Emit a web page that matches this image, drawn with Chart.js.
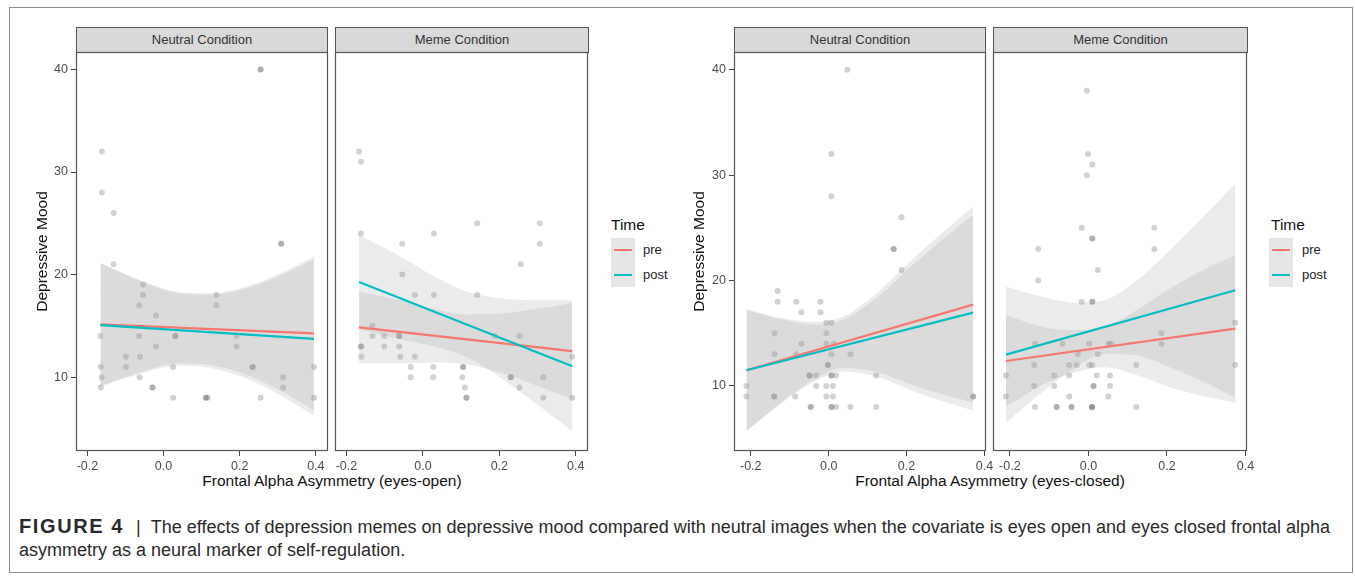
<!DOCTYPE html>
<html><head><meta charset="utf-8">
<script src="https://cdn.jsdelivr.net/npm/chart.js@4/dist/chart.umd.min.js"></script>
<style>
html,body{margin:0;padding:0;background:#fff;}
body{width:1355px;height:581px;position:relative;overflow:hidden;font-family:"Liberation Sans",Arial,sans-serif;}
canvas{position:absolute;}
.frame{position:absolute;left:9px;top:7px;width:1344px;height:566px;border:1px solid #8a8a8a;box-sizing:border-box;}
.strip{position:absolute;top:27px;height:26px;box-sizing:border-box;border:1px solid #555;background:#d9d9d9;color:#333;font-size:13px;text-align:center;line-height:24px;white-space:nowrap;}
.xt{position:absolute;top:472px;font-size:15.5px;line-height:18px;color:#111;transform:translateX(-50%);white-space:nowrap;}
.lgt{position:absolute;top:216px;font-size:15.5px;line-height:18px;color:#111;}
.lgk{position:absolute;top:238px;width:24px;height:49px;background:#e6e6e6;}
.lgl{position:absolute;width:18px;height:2px;}
.lgx{position:absolute;font-size:13px;line-height:16px;color:#222;}
.cap{position:absolute;left:19px;top:515px;font-size:18px;line-height:23px;color:#2a2a2a;white-space:nowrap;}
</style>
</head>
<body>
<div class="frame"></div>

<div class="strip" style="left:76px;width:252px">Neutral Condition</div>
<div class="strip" style="left:335px;width:254px">Meme Condition</div>
<div class="strip" style="left:734px;width:252px">Neutral Condition</div>
<div class="strip" style="left:993px;width:255px">Meme Condition</div>

<div class="xt" style="left:332px">Frontal Alpha Asymmetry (eyes-open)</div>
<div class="xt" style="left:990px">Frontal Alpha Asymmetry (eyes-closed)</div>

<div class="lgt" style="left:611px">Time</div>
<div class="lgk" style="left:611px"></div>
<div class="lgl" style="left:614px;top:249px;background:#F8766D"></div>
<div class="lgl" style="left:614px;top:274px;background:#00BFC4"></div>
<div class="lgx" style="left:643px;top:242px">pre</div>
<div class="lgx" style="left:643px;top:267px">post</div>

<div class="lgt" style="left:1271px">Time</div>
<div class="lgk" style="left:1269px"></div>
<div class="lgl" style="left:1272px;top:249px;background:#F8766D"></div>
<div class="lgl" style="left:1272px;top:274px;background:#00BFC4"></div>
<div class="lgx" style="left:1302px;top:242px">pre</div>
<div class="lgx" style="left:1302px;top:267px">post</div>

<div class="cap"><span style="font-weight:bold;font-size:20px;letter-spacing:1.6px">FIGURE 4</span><span style="margin:0 10px 0 12px">|</span>The effects of depression memes on depressive mood compared with neutral images when the covariate is eyes open and eyes closed frontal alpha<br>asymmetry as a neural marker of self-regulation.</div>

<script>
// ---------- data ----------
const xTicks = [-0.2, 0, 0.2, 0.4];
const yTicks = [10, 20, 30, 40];
const openXRange = [-0.23, 0.432];
const closedXRange = [-0.243, 0.404];
const openYRange = [2.8, 41.7];
const closedYRange = [3.83, 41.68];

// Panel 1: Neutral, eyes-open
const p1x = [0.255,0.255,-0.162,-0.162,-0.131,-0.131,0.309,0.309,-0.054,-0.054,-0.064,-0.020,0.139,0.139,-0.166,-0.064,0.031,0.031,0.192,-0.020,0.192,-0.099,-0.062,-0.165,-0.099,0.025,0.234,0.234,0.395,-0.163,-0.063,0.314,-0.165,-0.029,-0.029,0.314,0.025,0.111,0.111,0.116,0.255,0.395];
const p1y = [40,40,32,28,26,21,23,23,19,18,17,16,18,17,14,14,14,14,14,13,13,12,12,11,11,11,11,11,11,10,10,10,9,9,9,9,8,8,8,8,8,8];
const p1LineX = [-0.166, 0.395];
const p1Pre = [15.14, 14.26];
const p1Post = [15.08, 13.74];
const p1BandX = [-0.166, -0.054, 0.034, 0.121, 0.209, 0.297, 0.395];
const p1PreUpper = [21.14, 19.36, 18.33, 18.19, 18.75, 19.96, 21.76];
const p1PreLower = [9.14, 10.56, 11.33, 11.19, 10.35, 8.86, 6.76];
const p1PostUpper = [21.10, 19.28, 18.22, 18.05, 18.58, 19.75, 21.50];
const p1PostLower = [9.08, 10.41, 11.10, 10.89, 9.98, 8.42, 6.24];

// Panel 2: Meme, eyes-open
const p2x = [-0.167,-0.162,-0.162,0.142,0.306,0.029,-0.054,0.306,0.256,-0.054,-0.021,0.029,0.142,-0.132,-0.132,-0.101,-0.062,-0.062,0.188,0.253,-0.162,-0.162,-0.101,-0.062,-0.161,-0.059,-0.021,0.391,-0.032,0.027,0.105,0.105,-0.032,0.027,0.103,0.230,0.230,0.315,0.110,0.253,0.114,0.114,0.315,0.391];
const p2y = [32,31,24,25,25,24,23,23,21,20,18,18,18,15,14,14,14,14,14,14,13,13,13,13,12,12,12,12,11,11,11,11,10,10,10,10,10,10,9,9,8,8,8,8];
const p2LineX = [-0.167, 0.391];
const p2Pre = [14.85, 12.54];
const p2Post = [19.27, 11.07];
const p2BandX = [-0.167, -0.056, 0.031, 0.118, 0.206, 0.293, 0.391];
const p2PreUpper = [18.35, 17.45, 16.63, 16.12, 16.20, 16.64, 17.24];
const p2PreLower = [11.35, 11.35, 11.43, 11.22, 10.40, 9.24, 7.84];
const p2PostUpper = [23.85, 21.70, 19.80, 18.30, 17.70, 17.50, 17.50];
const p2PostLower = [14.70, 13.67, 12.99, 11.88, 9.88, 7.50, 4.70];

// Panel 3: Neutral, eyes-closed
const p3x = [0.048,0.007,0.007,0.187,0.167,0.167,0.187,-0.131,-0.131,-0.083,-0.021,-0.070,-0.021,-0.006,0.007,-0.139,-0.006,-0.070,-0.006,0.013,-0.139,-0.083,0.007,0.056,-0.002,-0.002,-0.049,-0.049,-0.032,0.007,0.007,0.019,0.122,-0.211,-0.032,-0.006,0.011,-0.211,-0.140,-0.140,-0.086,-0.006,0.011,0.371,0.371,-0.046,-0.046,0.007,0.007,0.019,0.056,0.122];
const p3y = [40,32,28,26,23,23,21,19,18,18,18,17,17,16,16,15,15,14,14,14,13,13,13,13,12,12,11,11,11,11,11,11,11,10,10,10,10,9,9,9,9,9,9,9,9,8,8,8,8,8,8,8];
const p3LineX = [-0.211, 0.371];
const p3Pre = [11.49, 17.72];
const p3Post = [11.49, 16.96];
const p3BandX = [-0.211, -0.116, -0.030, 0.038, 0.123, 0.209, 0.294, 0.371];
const p3PreUpper = [17.26, 16.40, 16.08, 16.60, 18.80, 21.80, 24.60, 27.00];
const p3PreLower = [5.72, 8.62, 10.78, 11.70, 11.32, 10.16, 9.18, 8.44];
const p3PostUpper = [17.26, 16.27, 15.84, 16.28, 18.37, 21.26, 23.95, 26.24];
const p3PostLower = [5.72, 8.49, 10.54, 11.38, 10.89, 9.62, 8.53, 7.68];

// Panel 4: Meme, eyes-closed
const p4x = [-0.004,-0.001,0.010,-0.004,-0.017,0.168,0.010,0.010,-0.128,0.168,0.024,-0.128,-0.017,0.010,0.010,0.374,0.186,-0.136,-0.066,0.002,0.051,0.058,0.186,-0.027,0.024,-0.138,-0.049,-0.030,0.002,0.010,0.122,0.374,-0.210,-0.087,-0.049,0.021,0.055,-0.138,-0.087,0.013,0.013,0.055,-0.210,-0.049,0.051,-0.136,-0.081,-0.081,-0.043,-0.043,0.009,0.009,0.009,0.122];
const p4y = [38,32,31,30,25,25,24,24,23,23,21,20,18,18,18,16,15,14,14,14,14,14,14,13,13,12,12,12,12,12,12,12,11,11,11,11,11,10,10,10,10,10,9,9,9,8,8,8,8,8,8,8,8,8];
const p4LineX = [-0.210, 0.374];
const p4Pre = [12.37, 15.44];
const p4Post = [12.97, 19.08];
const p4BandX = [-0.210, -0.116, -0.031, 0.038, 0.123, 0.208, 0.293, 0.374];
const p4PreUpper = [16.70, 15.60, 15.30, 15.57, 17.20, 19.25, 21.00, 22.40];
const p4PreLower = [8.02, 10.12, 11.32, 11.77, 11.04, 9.87, 9.02, 8.44];
const p4PostUpper = [19.40, 18.45, 17.90, 18.10, 20.00, 22.90, 26.05, 29.20];
const p4PostLower = [6.52, 9.45, 11.78, 13.02, 12.90, 11.78, 10.41, 8.90];

// ---------- layout / style ----------
const FONT = '"Liberation Sans", Arial, sans-serif';
const AREA_TOP = 52, AREA_H = 399, PADT = 12, PADR = 12, XH = 28;
const BAND = 'rgba(153,153,153,0.2)';
const PT = 'rgba(60,60,60,0.23)';
const PRE_COL = '#F8766D', POST_COL = '#00BFC4';

const panels = [
  {left:76,  w:252, yW:50, showY:true,  tPad:7.7, xr:openXRange,   yr:openYRange,   px:p1x, py:p1y, lx:p1LineX, pre:p1Pre, post:p1Post, bx:p1BandX, preU:p1PreUpper, preL:p1PreLower, postU:p1PostUpper, postL:p1PostLower},
  {left:335, w:253, yW:8,  showY:false, tPad:0,   xr:openXRange,   yr:openYRange,   px:p2x, py:p2y, lx:p2LineX, pre:p2Pre, post:p2Post, bx:p2BandX, preU:p2PreUpper, preL:p2PreLower, postU:p2PostUpper, postL:p2PostLower},
  {left:734, w:252, yW:50, showY:true,  tPad:6.7, xr:closedXRange, yr:closedYRange, px:p3x, py:p3y, lx:p3LineX, pre:p3Pre, post:p3Post, bx:p3BandX, preU:p3PreUpper, preL:p3PreLower, postU:p3PostUpper, postL:p3PostLower},
  {left:993, w:254, yW:8,  showY:false, tPad:0,   xr:closedXRange, yr:closedYRange, px:p4x, py:p4y, lx:p4LineX, pre:p4Pre, post:p4Post, bx:p4BandX, preU:p4PreUpper, preL:p4PreLower, postU:p4PostUpper, postL:p4PostLower}
];

const borderPlugin = {
  id: 'panelBorder',
  afterDatasetsDraw(chart) {
    const {ctx, chartArea: a} = chart;
    ctx.save();
    ctx.strokeStyle = '#555';
    ctx.lineWidth = 1.2;
    ctx.strokeRect(Math.round(a.left) + 0.5, Math.round(a.top) + 0.5, Math.round(a.width) - 1, Math.round(a.height) - 1);
    ctx.restore();
  }
};

function makePanel(c) {
  const cv = document.createElement('canvas');
  const W = c.yW + c.w + PADR, H = PADT + AREA_H + XH;
  cv.width = W; cv.height = H;
  cv.style.left = (c.left - c.yW) + 'px';
  cv.style.top = (AREA_TOP - PADT) + 'px';
  cv.style.width = W + 'px'; cv.style.height = H + 'px';
  document.body.appendChild(cv);

  const pts = c.px.map((x, i) => ({x: x, y: c.py[i]}));
  const seg = ys => c.lx.map((x, i) => ({x: x, y: ys[i]}));
  const band = ys => c.bx.map((x, i) => ({x: x, y: ys[i]}));
  const bandDs = (ys, fill, order) => ({
    data: band(ys), fill: fill ? '+1' : false, backgroundColor: BAND,
    borderWidth: 0, borderColor: 'rgba(0,0,0,0)', pointRadius: 0,
    cubicInterpolationMode: 'monotone', order: order
  });

  new Chart(cv.getContext('2d'), {
    type: 'line',
    data: {
      datasets: [
        {data: seg(c.post), borderColor: POST_COL, borderWidth: 2.2, pointRadius: 0, fill: false, tension: 0, order: 0},
        {data: seg(c.pre),  borderColor: PRE_COL,  borderWidth: 2.2, pointRadius: 0, fill: false, tension: 0, order: 1},
        bandDs(c.postU, true, 2),
        bandDs(c.postL, false, 3),
        bandDs(c.preU, true, 4),
        bandDs(c.preL, false, 5),
        {data: pts, showLine: false, pointRadius: 3, pointBackgroundColor: PT, pointBorderWidth: 0,
         pointBorderColor: 'rgba(0,0,0,0)', fill: false, order: 6}
      ]
    },
    options: {
      responsive: false, animation: false, devicePixelRatio: 1, events: [],
      layout: {padding: {top: PADT, right: PADR, left: 0, bottom: 0}},
      plugins: {legend: {display: false}, tooltip: {enabled: false}},
      scales: {
        x: {
          type: 'linear', position: 'bottom', min: c.xr[0], max: c.xr[1],
          afterBuildTicks: a => { a.ticks = xTicks.map(v => ({value: v})); },
          afterFit: a => { a.height = XH; },
          ticks: {font: {family: FONT, size: 12.5}, color: '#4d4d4d', padding: 3, maxRotation: 0, autoSkip: false,
                  callback: v => Number(v).toFixed(1)},
          grid: {display: true, drawOnChartArea: false, drawTicks: true, tickLength: 5, color: '#444', lineWidth: 1},
          border: {display: false}
        },
        y: {
          type: 'linear', position: 'left', min: c.yr[0], max: c.yr[1],
          afterBuildTicks: a => { a.ticks = yTicks.map(v => ({value: v})); },
          afterFit: a => { a.width = c.yW; },
          ticks: {display: c.showY, font: {family: FONT, size: 12.5}, color: '#4d4d4d', padding: 3},
          grid: {display: c.showY, drawOnChartArea: false, drawTicks: true, tickLength: 5, color: '#444', lineWidth: 1},
          border: {display: false},
          title: {display: c.showY, text: 'Depressive Mood', font: {family: FONT, size: 15.5}, color: '#111',
                  padding: {top: c.tPad, bottom: 0}}
        }
      }
    },
    plugins: [borderPlugin]
  });
}

panels.forEach(makePanel);
</script>
</body></html>
